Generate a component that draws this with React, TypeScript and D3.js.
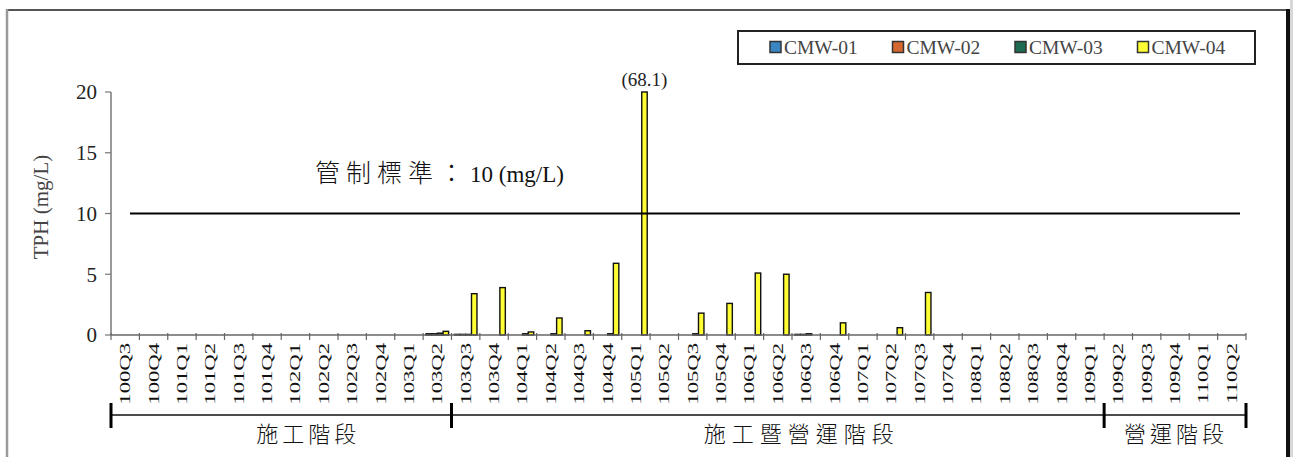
import React from 'react';
import * as d3 from 'd3';

// Sampling quarters (ROC year + quarter)
const quarters = [
  '100Q3', '100Q4',
  '101Q1', '101Q2', '101Q3', '101Q4',
  '102Q1', '102Q2', '102Q3', '102Q4',
  '103Q1', '103Q2', '103Q3', '103Q4',
  '104Q1', '104Q2', '104Q3', '104Q4',
  '105Q1', '105Q2', '105Q3', '105Q4',
  '106Q1', '106Q2', '106Q3', '106Q4',
  '107Q1', '107Q2', '107Q3', '107Q4',
  '108Q1', '108Q2', '108Q3', '108Q4',
  '109Q1', '109Q2', '109Q3', '109Q4',
  '110Q1', '110Q2',
];

const seriesNames = ['CMW-01', 'CMW-02', 'CMW-03', 'CMW-04'];
const seriesColors = ['#3a86c2', '#d4672f', '#1f6b52', '#ffff33'];

// TPH (mg/L) per well, one value per quarter
const cmw01 = [0, 0, 0, 0, 0, 0, 0, 0, 0, 0, 0, 0.1, 0.05, 0, 0, 0, 0, 0, 0, 0, 0, 0, 0, 0, 0.05, 0, 0, 0, 0, 0, 0, 0, 0, 0, 0, 0, 0, 0, 0, 0];
const cmw02 = [0, 0, 0, 0, 0, 0, 0, 0, 0, 0, 0, 0.1, 0.05, 0, 0, 0, 0, 0, 0, 0, 0, 0, 0, 0, 0.05, 0, 0, 0, 0, 0, 0, 0, 0, 0, 0, 0, 0, 0, 0, 0];
const cmw03 = [0, 0, 0, 0, 0, 0, 0, 0, 0, 0, 0, 0.15, 0.05, 0, 0.1, 0.1, 0, 0.1, 0, 0, 0.1, 0, 0, 0, 0.1, 0, 0, 0, 0, 0, 0, 0, 0, 0, 0, 0, 0, 0, 0, 0];
const cmw04 = [0, 0, 0, 0, 0, 0, 0, 0, 0, 0, 0, 0.3, 3.4, 3.9, 0.25, 1.4, 0.35, 5.9, 68.1, 0, 1.8, 2.6, 5.1, 5.0, 0, 1.0, 0, 0.6, 3.5, 0, 0, 0, 0, 0, 0, 0, 0, 0, 0, 0];

const seriesValues = [cmw01, cmw02, cmw03, cmw04];

const yTicks = [0, 5, 10, 15, 20];
const yMax = 20;
const controlStandard = 10;
const outlierLabel = '(68.1)';

const phaseNames = ['施工階段', '施工暨營運階段', '營運階段'];
const phaseStarts = [0, 12, 35];
const phaseEnds = [12, 35, 40];

// layout
const W = 1293;
const H = 457;
const X0 = 111;
const X1 = 1246;
const Y0 = 335;
const Y1 = 92;
const serif = "'Liberation Serif', 'Times New Roman', serif";
const cjk = "'Noto Sans CJK TC', 'Noto Sans CJK SC', sans-serif";
const phaseLabelShift = [27, 24, 1];
const phaseSpacing = [4, 6, 4];

export default function App() {
  const x = d3.scaleBand<string>().domain(quarters).range([X0, X1]).paddingInner(0).paddingOuter(0);
  const step = x.step();
  const inner = d3
    .scaleBand<string>()
    .domain(seriesNames)
    .range([(step - 23) / 2, (step + 23) / 2])
    .padding(0.04);
  const y = d3.scaleLinear().domain([0, yMax]).range([Y0, Y1]).clamp(true);

  const boundaries = d3.range(quarters.length + 1).map((i) => X0 + i * step);
  const bracketY = 415;

  const outlierIdx = cmw04.findIndex((v) => v > yMax);

  return (
    <svg
      width={W}
      height={H}
      style={{ position: 'absolute', left: 0, top: 0, background: '#fff' }}
    >
      {/* outer frame */}
      <line x1={6} x2={1289} y1={10} y2={10} stroke="#555" strokeWidth={2} />
      <line x1={7} x2={7} y1={9} y2={H} stroke="#9a9a9a" strokeWidth={2.5} />
      <line x1={1288} x2={1288} y1={9} y2={H} stroke="#111" strokeWidth={4} />
      <rect x={1290} y={0} width={3} height={H} fill="#d8d8d8" />

      {/* legend */}
      <rect x={738} y={31} width={517} height={33} fill="#fff" stroke="#222" strokeWidth={2} />
      {seriesNames.map((name, i) => {
        const lx = 770 + i * 122.5;
        return (
          <g key={name}>
            <rect x={lx} y={41.5} width={11} height={11} fill={seriesColors[i]} stroke="#333" strokeWidth={1.5} />
            <text x={lx + 14} y={54} fontFamily={serif} fontSize={19.5} fill="#444">
              {name}
            </text>
          </g>
        );
      })}

      {/* y axis */}
      <line x1={X0} x2={X0} y1={Y1} y2={Y0} stroke="#777" strokeWidth={1.5} />
      {yTicks.map((t) => (
        <g key={t}>
          <line x1={X0 - 6} x2={X0} y1={y(t)} y2={y(t)} stroke="#777" strokeWidth={1.2} />
          <text
            x={97}
            y={y(t)}
            dy="0.35em"
            textAnchor="end"
            fontFamily={serif}
            fontSize={21}
            fill="#222"
          >
            {t}
          </text>
        </g>
      ))}
      <text
        transform={`translate(41,207) rotate(-90)`}
        textAnchor="middle"
        dy="0.35em"
        fontFamily={serif}
        fontSize={21}
        fill="#444"
      >
        TPH (mg/L)
      </text>

      {/* bars */}
      {quarters.map((q, qi) => (
        <g key={q}>
          {seriesValues.map((vals, si) => {
            const v = vals[qi];
            if (!v) return null;
            const bx = (x(q) as number) + (inner(seriesNames[si]) as number);
            const top = y(v);
            return (
              <rect
                key={si}
                x={bx}
                y={top}
                width={inner.bandwidth()}
                height={Y0 - top}
                fill={seriesColors[si]}
                stroke="#111"
                strokeWidth={1.4}
              />
            );
          })}
        </g>
      ))}

      {/* x axis */}
      <line x1={X0} x2={X1} y1={Y0} y2={Y0} stroke="#666" strokeWidth={1.5} />
      {boundaries.map((bx, i) => (
        <line key={i} x1={bx} x2={bx} y1={Y0 - 2} y2={Y0 + 5} stroke="#666" strokeWidth={1.2} />
      ))}
      {quarters.map((q) => {
        const cx = (x(q) as number) + step / 2;
        return (
          <text
            key={q}
            transform={`translate(${cx},343) rotate(-90) scale(1.62,1)`}
            textAnchor="end"
            dy="0.36em"
            fontFamily={serif}
            fontSize={14}
            fill="#111"
          >
            {q}
          </text>
        );
      })}

      {/* control standard */}
      <line x1={130} x2={1240} y1={y(controlStandard)} y2={y(controlStandard)} stroke="#000" strokeWidth={2} />
      <text x={315} y={182} fill="#111">
        <tspan fontFamily={cjk} fontSize={25} letterSpacing={6} fontWeight={300}>
          管制標準：
        </tspan>
        <tspan fontFamily={serif} fontSize={23}>
          {`${controlStandard} (mg/L)`}
        </tspan>
      </text>

      {/* off-scale value */}
      {outlierIdx >= 0 && (
        <text
          x={(x(quarters[outlierIdx]) as number) + (inner(seriesNames[3]) as number) + inner.bandwidth() / 2}
          y={86}
          textAnchor="middle"
          fontFamily={serif}
          fontSize={19}
          fill="#222"
        >
          {outlierLabel}
        </text>
      )}

      {/* project phases */}
      <line x1={X0} x2={X1} y1={bracketY} y2={bracketY} stroke="#111" strokeWidth={1.5} />
      {[0, ...phaseEnds].map((b, i) => (
        <line
          key={i}
          x1={boundaries[b]}
          x2={boundaries[b]}
          y1={403}
          y2={428}
          stroke="#000"
          strokeWidth={3}
        />
      ))}
      {phaseNames.map((name, i) => {
        const mid = (boundaries[phaseStarts[i]] + boundaries[phaseEnds[i]]) / 2 + phaseLabelShift[i];
        return (
          <text
            key={name}
            x={mid}
            y={442}
            textAnchor="middle"
            fontFamily={cjk}
            fontSize={22}
            fontWeight={300}
            letterSpacing={phaseSpacing[i]}
            fill="#111"
          >
            {name}
          </text>
        );
      })}
    </svg>
  );
}
